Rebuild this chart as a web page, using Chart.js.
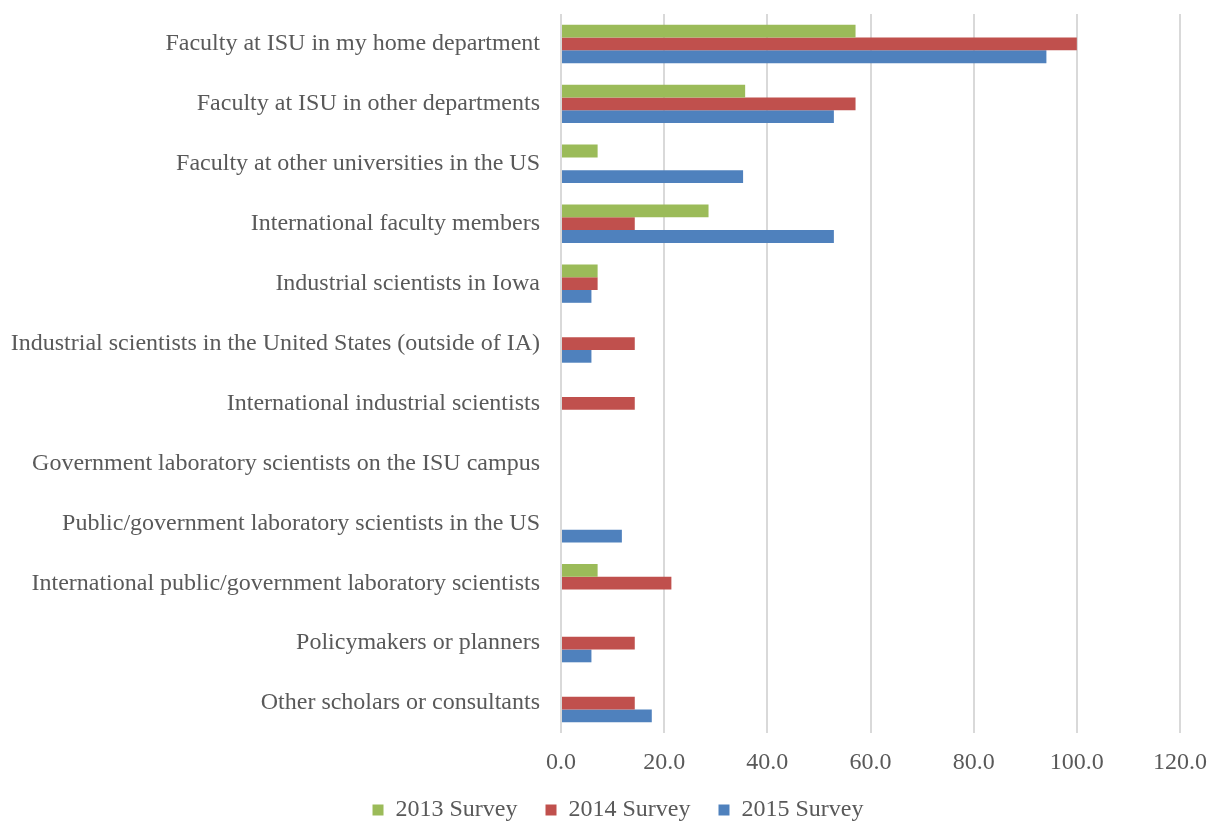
<!DOCTYPE html>
<html>
<head>
<meta charset="utf-8">
<script src="https://cdn.jsdelivr.net/npm/chart.js@4/dist/chart.umd.min.js"></script>
<style>
  html, body { margin: 0; padding: 0; background: #ffffff; }
  #wrap { width: 1208px; height: 823px; }
</style>
</head>
<body>
<div id="wrap"><canvas id="c" width="1208" height="823"></canvas></div>
<script>
const categories = [
  "Faculty at ISU in my home department",
  "Faculty at ISU in other departments",
  "Faculty at other universities in the US",
  "International faculty members",
  "Industrial scientists in Iowa",
  "Industrial scientists in the United States (outside of IA)",
  "International industrial scientists",
  "Government laboratory scientists on the ISU campus",
  "Public/government laboratory scientists in the US",
  "International public/government laboratory scientists",
  "Policymakers or planners",
  "Other scholars or consultants"
];

const survey2013 = [57.1, 35.7, 7.1, 28.6, 7.1, 0, 0, 0, 0, 7.1, 0, 0];
const survey2014 = [100.0, 57.1, 0, 14.3, 7.1, 14.3, 14.3, 0, 0, 21.4, 14.3, 14.3];
const survey2015 = [94.1, 52.9, 35.3, 52.9, 5.9, 5.9, 0, 0, 11.8, 0, 5.9, 17.6];

const seriesNames = ["2013 Survey", "2014 Survey", "2015 Survey"];
const xTicks = [0, 20, 40, 60, 80, 100, 120];

const FONT = "'Liberation Serif', 'Times New Roman', serif";
const TEXT = "#595959";

// Fixed box sizes for the category axis, value axis and legend strip
const LABEL_COLUMN = 561;
const VALUE_AXIS_HEIGHT = 37;
const LEGEND_HEIGHT = 53;
const LEGEND_SHIFT_X = 14;

const legendBoxPlugin = {
  id: "legendBox",
  afterInit(chart) {
    const lg = chart.legend;
    if (!lg) return;
    const baseFit = lg.fit.bind(lg);
    lg.fit = function () {
      baseFit();
      this.height = LEGEND_HEIGHT;
    };
  },
  afterLayout(chart) {
    const lg = chart.legend;
    if (!lg) return;
    lg.left += LEGEND_SHIFT_X;
    lg.right += LEGEND_SHIFT_X;
  }
};

new Chart(document.getElementById("c"), {
  type: "bar",
  data: {
    labels: categories,
    datasets: [
      { label: seriesNames[0], data: survey2013, backgroundColor: "#9BBB59" },
      { label: seriesNames[1], data: survey2014, backgroundColor: "#C0504D" },
      { label: seriesNames[2], data: survey2015, backgroundColor: "#4F81BD" }
    ]
  },
  plugins: [legendBoxPlugin],
  options: {
    indexAxis: "y",
    responsive: false,
    animation: false,
    devicePixelRatio: 1,
    layout: { padding: { top: 14, right: 0, left: 0, bottom: 0 } },
    datasets: { bar: { categoryPercentage: 0.64, barPercentage: 1.0, borderWidth: 0 } },
    scales: {
      x: {
        min: xTicks[0],
        max: xTicks[xTicks.length - 1],
        afterBuildTicks: (axis) => { axis.ticks = xTicks.map(v => ({ value: v })); },
        afterFit: (axis) => {
          axis.height = VALUE_AXIS_HEIGHT;
          axis.paddingLeft = 0;
          axis.paddingRight = 28;
        },
        grid: { color: "#d9d9d9", lineWidth: 2, drawTicks: false },
        border: { display: false },
        ticks: {
          callback: (v) => Number(v).toFixed(1),
          font: { family: FONT, size: 24 },
          color: TEXT,
          padding: 15,
          maxRotation: 0
        }
      },
      y: {
        afterFit: (axis) => {
          axis.width = LABEL_COLUMN;
          axis.paddingTop = 0;
          axis.paddingBottom = 0;
        },
        grid: { display: false },
        border: { display: false },
        ticks: {
          font: { family: FONT, size: 24 },
          color: TEXT,
          padding: 13,
          autoSkip: false
        }
      }
    },
    plugins: {
      legend: {
        position: "bottom",
        labels: {
          font: { family: FONT, size: 24 },
          color: TEXT,
          boxWidth: 11,
          boxHeight: 11,
          padding: 28
        }
      },
      tooltip: { enabled: false }
    }
  }
});
</script>
</body>
</html>
